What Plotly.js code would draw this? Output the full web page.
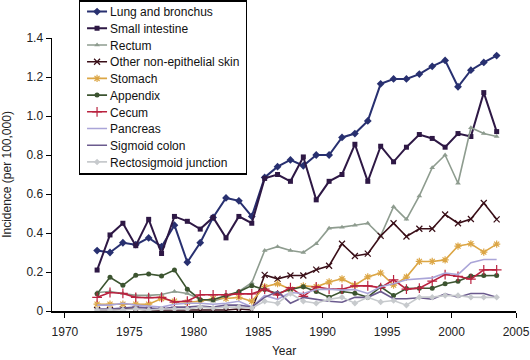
<!DOCTYPE html>
<html>
<head>
<meta charset="utf-8">
<script src="https://cdn.plot.ly/plotly-3.0.1.min.js"></script>
<style>
  html, body { margin: 0; padding: 0; background: #fff; }
  #chart { width: 530px; height: 360px; }
</style>
</head>
<body>
<div id="chart"></div>
<script>
// Data points are plotted at mid-year positions as in the reference
var years = [1972.5, 1973.5, 1974.5, 1975.5, 1976.5, 1977.5, 1978.5, 1979.5, 1980.5, 1981.5,
             1982.5, 1983.5, 1984.5, 1985.5, 1986.5, 1987.5, 1988.5, 1989.5, 1990.5, 1991.5,
             1992.5, 1993.5, 1994.5, 1995.5, 1996.5, 1997.5, 1998.5, 1999.5, 2000.5, 2001.5,
             2002.5, 2003.5];

var lung = [0.31, 0.30, 0.35, 0.34, 0.375, 0.33, 0.44, 0.25, 0.35, 0.48,
            0.58, 0.565, 0.485, 0.685, 0.74, 0.775, 0.745, 0.80, 0.80, 0.89,
            0.91, 0.975, 1.165, 1.19, 1.19, 1.215, 1.255, 1.285, 1.15, 1.235,
            1.275, 1.31];

var smallIntestine = [0.21, 0.39, 0.45, 0.335, 0.47, 0.295, 0.485, 0.46, 0.42, 0.48,
                      0.375, 0.485, 0.45, 0.68, 0.70, 0.665, 0.79, 0.57, 0.665, 0.70,
                      0.855, 0.665, 0.845, 0.765, 0.84, 0.905, 0.885, 0.84, 0.91, 0.895,
                      1.12, 0.92];

var rectum = [0.095, 0.10, 0.09, 0.08, 0.08, 0.085, 0.10, 0.09, 0.06, 0.05,
              0.07, 0.10, 0.145, 0.31, 0.33, 0.31, 0.30, 0.345, 0.425, 0.43,
              0.44, 0.45, 0.385, 0.535, 0.47, 0.59, 0.735, 0.80, 0.655, 0.94,
              0.91, 0.895];

var otherSkin = [0.005, 0.005, 0.01, 0.01, 0.005, 0.005, 0.005, 0.005, 0.005, 0.005,
                 0.005, 0.01, 0.005, 0.185, 0.165, 0.182, 0.182, 0.212, 0.232, 0.345,
                 0.282, 0.294, 0.385, 0.45, 0.382, 0.422, 0.422, 0.495, 0.45, 0.472,
                 0.554, 0.47];

var stomach = [0.035, 0.035, 0.035, 0.035, 0.035, 0.064, 0.05, 0.045, 0.05, 0.064,
               0.064, 0.07, 0.05, 0.125, 0.14, 0.112, 0.129, 0.124, 0.149, 0.165,
               0.132, 0.175, 0.195, 0.133, 0.174, 0.254, 0.254, 0.262, 0.333, 0.345,
               0.302, 0.343];

var appendix = [0.088, 0.173, 0.132, 0.183, 0.19, 0.18, 0.21, 0.112, 0.058, 0.058,
                0.079, 0.099, 0.13, 0.11, 0.09, 0.11, 0.124, 0.10, 0.071, 0.10,
                0.091, 0.071, 0.124, 0.079, 0.115, 0.117, 0.117, 0.14, 0.153, 0.18,
                0.182, 0.182];

var cecum = [0.07, 0.095, 0.09, 0.07, 0.068, 0.07, 0.046, 0.051, 0.083, 0.083,
             0.083, 0.088, 0.088, 0.112, 0.083, 0.12, 0.075, 0.124, 0.112, 0.112,
             0.129, 0.129, 0.12, 0.16, 0.112, 0.117, 0.153, 0.187, 0.178, 0.163,
             0.211, 0.211];

var pancreas = [0.03, 0.03, 0.04, 0.03, 0.025, 0.02, 0.035, 0.04, 0.04, 0.035,
                0.04, 0.05, 0.02, 0.08, 0.06, 0.095, 0.09, 0.11, 0.112, 0.107,
                0.11, 0.09, 0.124, 0.14, 0.16, 0.165, 0.17, 0.195, 0.187, 0.248,
                0.264, 0.264];

var sigmoid = [0.01, 0.01, 0.015, 0.02, 0.015, 0.01, 0.02, 0.02, 0.025, 0.02,
               0.03, 0.03, 0.02, 0.07, 0.10, 0.04, 0.07, 0.06, 0.05, 0.045,
               0.07, 0.07, 0.10, 0.063, 0.063, 0.068, 0.06, 0.088, 0.071, 0.09,
               0.09, 0.071];

var rectosigmoid = [0.005, 0.005, 0.005, 0.01, 0.005, 0.01, 0.01, 0.01, 0.02, 0.015,
                    0.02, 0.02, 0.015, 0.05, 0.04, 0.09, 0.05, 0.04, 0.06, 0.07,
                    0.04, 0.07, 0.046, 0.054, 0.03, 0.071, 0.071, 0.079, 0.079, 0.071,
                    0.07, 0.07];

var xTickVals = [1970, 1975, 1980, 1985, 1990, 1995, 2000, 2005];
var yTickVals = [0, 0.2, 0.4, 0.6, 0.8, 1.0, 1.2, 1.4];
var yTickText = ['0', '0.2', '0.4', '0.6', '0.8', '1.0', '1.2', '1.4'];

function series(name, y, color, symbol, size, width, mode, open) {
  var t = {
    type: 'scatter', mode: mode || 'lines+markers', name: name,
    x: years, y: y,
    line: { color: color, width: width },
    marker: { symbol: symbol, size: size, color: color }
  };
  if (open) t.marker.line = { color: color, width: 1.2 };
  return t;
}

var data = [
  series('Lung and bronchus', lung, '#283070', 'diamond', 6, 2),
  series('Small intestine', smallIntestine, '#2e1845', 'square', 5, 2),
  series('Rectum', rectum, '#8e9c8f', 'triangle-up', 5, 1.6),
  series('Other non-epithelial skin', otherSkin, '#3a0f18', 'x-thin', 6, 1.6, null, true),
  series('Stomach', stomach, '#dca645', 'asterisk', 6, 1.6, null, true),
  series('Appendix', appendix, '#3c5430', 'circle', 5, 1.6),
  series('Cecum', cecum, '#b9223f', 'cross-thin', 7, 1.6, null, true),
  series('Pancreas', pancreas, '#aaa5d8', 'circle', 1, 1.6, 'lines'),
  series('Sigmoid colon', sigmoid, '#6b5b8e', 'circle', 1, 1.6, 'lines'),
  series('Rectosigmoid junction', rectosigmoid, '#c7cacd', 'diamond', 5, 1.6)
];

var font = { family: 'Liberation Sans, Arial, sans-serif', size: 12, color: '#222' };

var layout = {
  width: 530, height: 360,
  margin: { l: 52, r: 14, t: 28, b: 49 },
  paper_bgcolor: '#fff', plot_bgcolor: '#fff',
  font: font,
  showlegend: true,
  legend: {
    x: 0.058, y: 1.095, xanchor: 'left', yanchor: 'top',
    bgcolor: '#fff', bordercolor: '#000', borderwidth: 1.5,
    font: { family: 'Liberation Sans, Arial, sans-serif', size: 12, color: '#111' },
    itemwidth: 30, tracegroupgap: 0, maxheight: 1
  },
  xaxis: {
    range: [1969, 2005], tickmode: 'array', tickvals: xTickVals,
    ticks: 'outside', ticklen: 5, tickwidth: 1, tickcolor: '#000',
    showline: true, linecolor: '#000', linewidth: 1.5,
    showgrid: false, zeroline: false,
    tickfont: font, ticklabelstandoff: 4,
    title: { text: 'Year', font: font, standoff: 8 }
  },
  yaxis: {
    range: [0, 1.4], tickmode: 'array', tickvals: yTickVals, ticktext: yTickText,
    ticks: 'outside', ticklen: 5, tickwidth: 1, tickcolor: '#000',
    showline: true, linecolor: '#000', linewidth: 1.5,
    showgrid: false, zeroline: false,
    tickfont: font,
    title: { text: 'Incidence (per 100,000)', font: font, standoff: 13 }
  }
};

// Target legend geometry (page pixels)
var LEG_LEFT = 79.3, LEG_TOP = 1, LEG_WIDTH = 167.4, ROW_STEP = 16.7, FIRST_ROW_CENTER = 12.3;

function parseTranslate(el) {
  var m = /translate\(\s*([-\d.e]+)[ ,]+([-\d.e]+)\s*\)/.exec(el.getAttribute('transform') || '');
  return m ? [parseFloat(m[1]), parseFloat(m[2])] : [0, 0];
}

function compactLegend(gd) {
  var leg = gd.querySelector('g.legend');
  if (!leg) return;
  var items = leg.querySelectorAll('g.traces');
  var bg = leg.querySelector('rect.bg');
  if (!items.length || !bg) return;
  var base = gd.getBoundingClientRect();

  function placeItems(first) {
    items.forEach(function (it, i) {
      it.setAttribute('transform', 'translate(1.5,' + (first + i * ROW_STEP) + ')');
      var txt = it.querySelector('text.legendtext');
      if (txt) txt.setAttribute('x', 30);
      it.querySelectorAll('g.legendlines path').forEach(function (p) { p.setAttribute('d', 'M7,0h20'); });
      it.querySelectorAll('path.scatterpts').forEach(function (p) { p.setAttribute('transform', 'translate(17,0)'); });
    });
  }

  var first = FIRST_ROW_CENTER - LEG_TOP;
  placeItems(first);
  bg.setAttribute('height', 2 * (FIRST_ROW_CENTER - LEG_TOP) + (items.length - 1) * ROW_STEP);
  bg.setAttribute('width', LEG_WIDTH);

  // move the whole legend so its box sits where the reference box is
  var r = bg.getBoundingClientRect();
  var t = parseTranslate(leg);
  leg.setAttribute('transform', 'translate(' + (t[0] + LEG_LEFT - (r.left - base.left)) + ',' +
                   (t[1] + LEG_TOP - (r.top - base.top)) + ')');

  // fine-tune the rows so the first label is centred where the reference has it
  var txt0 = items[0].querySelector('text.legendtext');
  if (txt0) {
    var tr = txt0.getBoundingClientRect();
    var c = (tr.top + tr.bottom) / 2 - base.top;
    placeItems(first + (FIRST_ROW_CENTER - c));
  }
  // keep the clip region large enough
  var clip = gd.querySelectorAll('clipPath[id*="legend"] rect');
  clip.forEach(function (cr) {
    cr.setAttribute('height', Math.max(parseFloat(cr.getAttribute('height')) || 0, 400));
  });
}

Plotly.newPlot('chart', data, layout, { displayModeBar: false, staticPlot: true }).then(function (gd) {
  compactLegend(gd);
});
</script>
</body>
</html>
